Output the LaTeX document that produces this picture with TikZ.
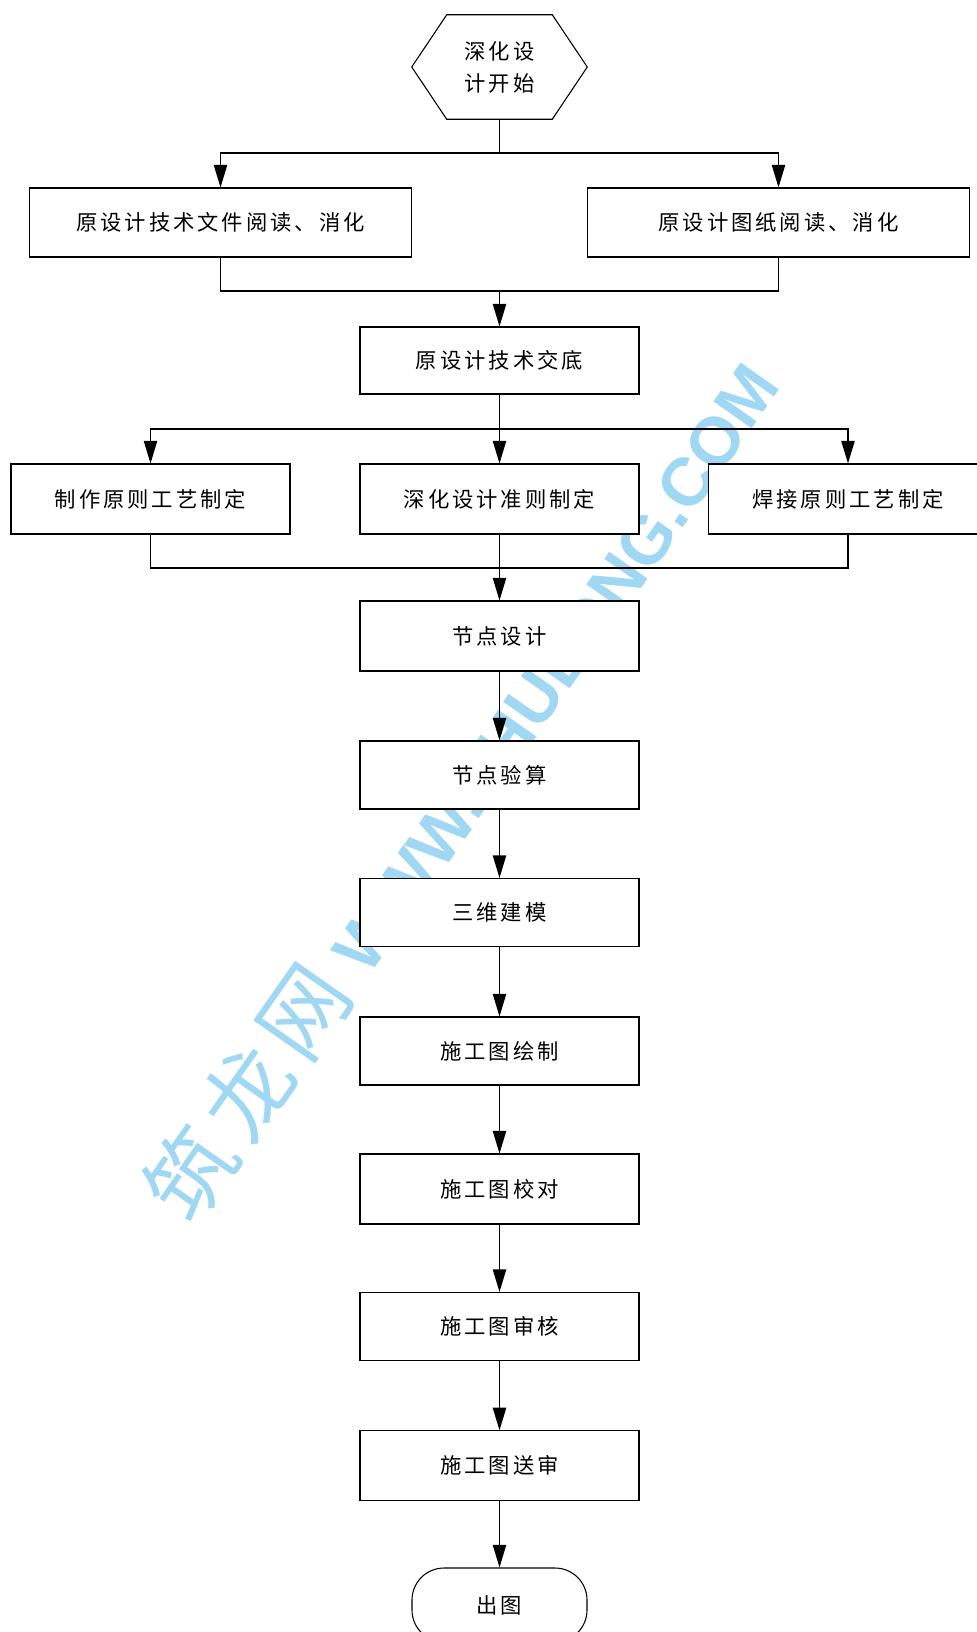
\documentclass[tikz,border=0pt]{standalone}
\usepackage{fontspec}
\setmainfont{Noto Sans CJK SC}
\newfontfamily\wmcjk[LetterSpace=12]{Noto Sans CJK SC}
\newfontfamily\wmlat{Liberation Sans}
\usetikzlibrary{arrows.meta,calc}
\definecolor{wmblue}{RGB}{160,216,244}
\begin{document}
\begin{tikzpicture}[x=0.75pt,y=-0.75pt,
  box/.style={draw,line width=0.8pt,fill=white,inner sep=0pt,
    minimum width=209.25pt,minimum height=51pt,
    font=\fontsize{16pt}{20pt}\selectfont\addfontfeature{LetterSpace=14}},
  wide/.style={box,minimum width=287pt},
  conn/.style={line width=1.1pt},
  arr/.style={conn,-{Triangle[length=17pt,width=10pt]}}]
\useasboundingbox (0,0) rectangle (976,1632);
% watermark
\node[text=wmblue,rotate=55,anchor=center,inner sep=0pt] (wm) at (460,788)
  {{\wmcjk\fontsize{66pt}{70pt}\selectfont 筑龙网}\hspace{16pt}{\wmlat\bfseries\fontsize{51pt}{60pt}\selectfont WWW.ZHULONG.COM}};
% start hexagon
\node[inner sep=0pt,minimum width=131.25pt,minimum height=78pt] (hex) at (499.5,67) {};
\draw[line width=0.8pt,fill=white] (hex.west) -- ($(hex.north west)+(35,0)$) -- ($(hex.north east)+(-35,0)$)
  -- (hex.east) -- ($(hex.south east)+(-35,0)$) -- ($(hex.south west)+(35,0)$) -- cycle;
\node[inner sep=0pt,align=center,font=\fontsize{16pt}{24pt}\selectfont\addfontfeature{LetterSpace=14}] (hextext) at (hex.center) {深化设\\计开始};
% boxes
\node[wide,minimum height=51.75pt] (A) at (220.5,222.5) {原设计技术文件阅读、消化};
\node[wide,minimum height=51.75pt] (B) at (778.5,222.5) {原设计图纸阅读、消化};
\node[box,minimum height=50.25pt] (C) at (499.5,360.5) {原设计技术交底};
\node[box,minimum height=52.5pt] (D) at (150.5,499) {制作原则工艺制定};
\node[box,minimum height=52.5pt] (E) at (499.5,499) {深化设计准则制定};
\node[box,minimum height=52.5pt] (F) at (848,499) {焊接原则工艺制定};
\node[box,minimum height=52.5pt] (G) at (499.5,636) {节点设计};
\node[box] (H) at (499.5,775) {节点验算};
\node[box] (I) at (499.5,912.5) {三维建模};
\node[box] (J) at (499.5,1051) {施工图绘制};
\node[box,minimum height=52.5pt] (K) at (499.5,1189) {施工图校对};
\node[box] (L) at (499.5,1326.5) {施工图审核};
\node[box,minimum height=52pt] (M) at (499.5,1465.5) {施工图送审};
\node[box,minimum width=131.25pt,minimum height=55.5pt,rounded corners=24pt] (N) at (499.5,1605) {出图};
% junction points
\coordinate (s1) at (499.5,153);
\coordinate (m1) at (499.5,291);
\coordinate (s2) at (499.5,429);
\coordinate (m2) at (499.5,568);
% connectors
\draw[conn] (hex.south) -- (s1);
\draw[arr] (s1) -| (A.north);
\draw[arr] (s1) -| (B.north);
\draw[conn] (A.south) |- (m1) -| (B.south);
\draw[arr] (m1) -- (C.north);
\draw[conn] (C.south) -- (s2);
\draw[arr] (s2) -| (D.north);
\draw[arr] (s2) -| (F.north);
\draw[arr] (s2) -- (E.north);
\draw[conn] (D.south) |- (m2) -| (F.south);
\draw[arr] (E.south) -- (G.north);
\draw[arr] (G) -- (H);
\draw[arr] (H) -- (I);
\draw[arr] (I) -- (J);
\draw[arr] (J) -- (K);
\draw[arr] (K) -- (L);
\draw[arr] (L) -- (M);
\draw[arr] (M) -- (N);
\end{tikzpicture}
\end{document}
